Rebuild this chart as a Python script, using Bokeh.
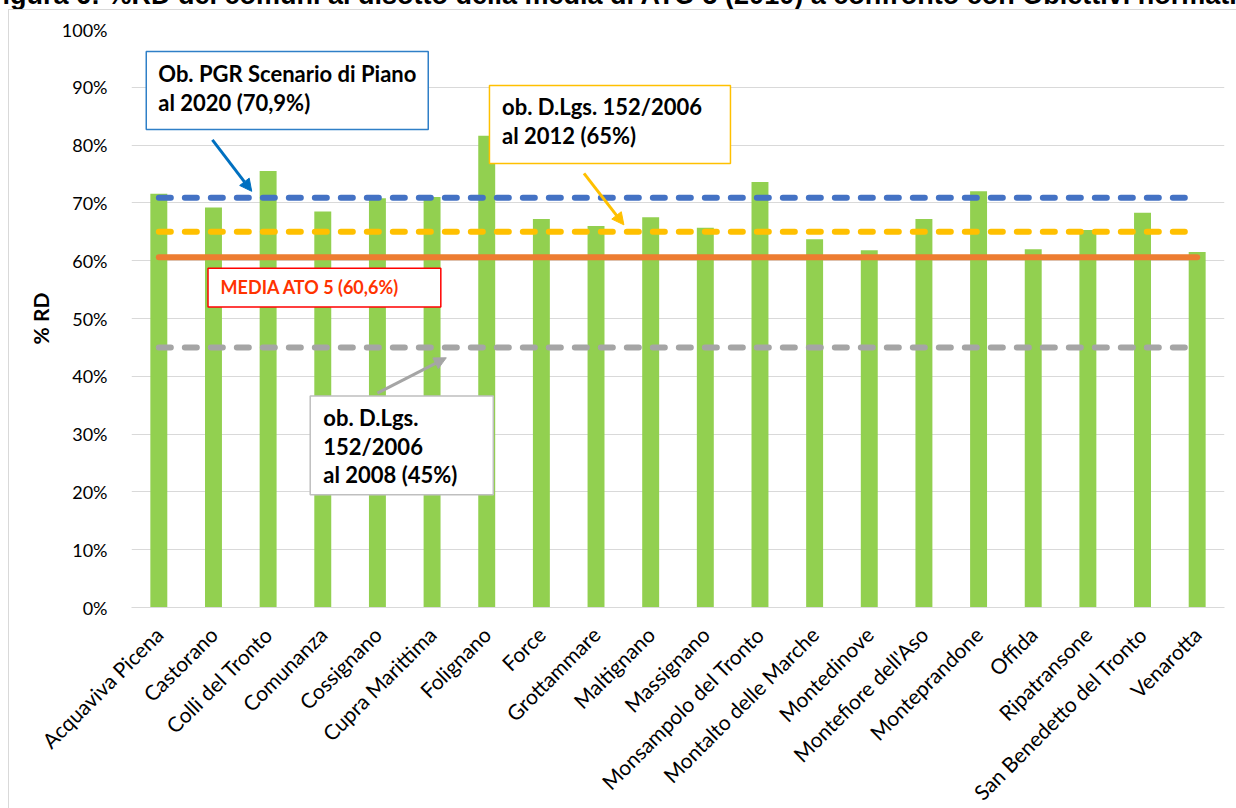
from math import pi

from bokeh.embed import file_html
from bokeh.resources import INLINE
from bokeh.layouts import column
from bokeh.plotting import figure
from bokeh.models import (Range1d, FixedTicker, PrintfTickFormatter, Label, Arrow,
                          NormalHead, Div)

# --- data -------------------------------------------------------------
comuni = [
    "Acquaviva Picena", "Castorano", "Colli del Tronto", "Comunanza", "Cossignano",
    "Cupra Marittima", "Folignano", "Force", "Grottammare", "Maltignano",
    "Massignano", "Monsampolo del Tronto", "Montalto delle Marche", "Montedinove",
    "Montefiore dell'Aso", "Monteprandone", "Offida", "Ripatransone",
    "San Benedetto del Tronto", "Venarotta",
]
rd_percent = [71.6, 69.2, 75.5, 68.5, 70.8, 71.0, 81.6, 67.2, 66.0, 67.5,
              65.7, 73.6, 63.7, 61.8, 67.2, 72.0, 62.0, 65.3, 68.3, 61.5]

ob_pgr_2020 = 70.9
ob_dlgs_2012 = 65.0
media_ato5 = 60.6
ob_dlgs_2008 = 45.0

y_ticks = list(range(0, 101, 10))

TITLE = ("Figura 6: %RD dei comuni al disotto della media di ATO 5 (2010) "
         "a confronto con Obiettivi normativi")

# --- heading strip above the chart --------------------------------------
head = Div(
    text=('<div style="position:absolute; left:-14px; top:-18px; white-space:nowrap; '
          "font-family:'Liberation Sans'; font-weight:bold; font-size:27px; "
          f'line-height:27px; color:#000000;">{TITLE}</div>'),
    width=1236, height=9, margin=0,
    styles={"overflow": "hidden", "position": "relative"},
)

# --- figure -----------------------------------------------------------
n = len(comuni)
xs = [i + 0.5 for i in range(n)]

p = figure(width=1228, height=806, output_backend="svg", toolbar_location=None,
           x_range=Range1d(0, n), y_range=Range1d(0, 100),
           min_border_left=122, min_border_right=13, min_border_top=19,
           min_border_bottom=208)
p.margin = (0, 0, 0, 8)
p.styles = {"border-left": "1px solid #D9D9D9", "border-top": "1px solid #D9D9D9"}
p.outline_line_color = None
p.background_fill_color = "white"
p.border_fill_color = "white"

TICK_FONT = "Lato"
BOX_FONT = "Lato"

# y axis
p.yaxis.ticker = FixedTicker(ticks=y_ticks)
p.yaxis.formatter = PrintfTickFormatter(format="%d%%")
p.yaxis.axis_line_color = None
p.yaxis.major_tick_line_color = None
p.yaxis.minor_tick_line_color = None
p.yaxis.major_label_standoff = 18
p.yaxis.major_label_text_font = TICK_FONT
p.yaxis.major_label_text_font_size = "18px"
p.yaxis.major_label_text_color = "#000000"
p.yaxis.axis_label = "% RD"
p.yaxis.axis_label_text_font = BOX_FONT
p.yaxis.axis_label_text_font_style = "bold"
p.yaxis.axis_label_text_font_size = "21px"
p.yaxis.axis_label_text_color = "#000000"
p.yaxis.axis_label_standoff = 6

# x axis
p.xaxis.ticker = FixedTicker(ticks=xs)
p.xaxis.major_label_overrides = {x: c for x, c in zip(xs, comuni)}
p.xaxis.major_label_orientation = pi / 4
p.xaxis.axis_line_color = "#D9D9D9"
p.xaxis.major_tick_line_color = None
p.xaxis.minor_tick_line_color = None
p.xaxis.major_label_standoff = 17
p.xaxis.major_label_text_font = TICK_FONT
p.xaxis.major_label_text_font_size = "21px"
p.xaxis.major_label_text_color = "#000000"

p.xgrid.grid_line_color = None
p.ygrid.ticker = FixedTicker(ticks=y_ticks)
p.ygrid.grid_line_color = "#D9D9D9"
p.ygrid.grid_line_width = 1

# bars
p.vbar(x=xs, top=rd_percent, width=0.31, fill_color="#92D050", line_color=None)

# reference lines across all comuni
x_span = [xs[0], xs[-1]]
p.line(x_span, [ob_pgr_2020] * 2, line_color="#4472C4", line_width=6,
       line_dash="12 14", line_cap="round")
p.line(x_span, [ob_dlgs_2012] * 2, line_color="#FFC000", line_width=6,
       line_dash="12 14", line_cap="round")
p.line(x_span, [media_ato5] * 2, line_color="#ED7D31", line_width=6,
       line_cap="round")
p.line(x_span, [ob_dlgs_2008] * 2, line_color="#A5A5A5", line_width=6,
       line_dash="12 14", line_cap="round")

# callout boxes: (left, right, bottom, top, border colour)
callouts = [
    (0.27, 5.43, 82.7, 96.2, "#2F7FC7"),
    (6.55, 10.96, 76.8, 90.3, "#FFC000"),
    (1.40, 5.66, 52.0, 58.7, "#FF0000"),
    (3.27, 6.62, 19.5, 36.6, "#BFBFBF"),
]
for l, r, b, t, c in callouts:
    p.quad(left=[l], right=[r], bottom=[b], top=[t], fill_color="white",
           line_color=c, line_width=1.5)

# callout texts: (x, y, text, colour, size)
callout_texts = [
    (0.49, 92.4, "Ob. PGR Scenario di Piano", "#000000", "22px"),
    (0.49, 87.4, "al 2020 (70,9%)", "#000000", "22px"),
    (6.78, 86.7, "ob. D.Lgs. 152/2006", "#000000", "22px"),
    (6.78, 81.6, "al 2012 (65%)", "#000000", "22px"),
    (1.63, 55.4, "MEDIA ATO 5 (60,6%)", "#FF3300", "18px"),
    (3.51, 32.8, "ob. D.Lgs.", "#000000", "22px"),
    (3.51, 27.8, "152/2006", "#000000", "22px"),
    (3.51, 23.0, "al 2008 (45%)", "#000000", "22px"),
]
for x, y, txt, c, size in callout_texts:
    p.add_layout(Label(x=x, y=y, text=txt, text_font=BOX_FONT, text_font_style="bold",
                       text_font_size=size, text_color=c, text_baseline="middle",
                       text_align="left"))

# pointer arrows: (x0, y0, x1, y1, colour)
pointers = [
    (1.48, 80.9, 2.20, 72.0, "#0070C0"),
    (8.28, 75.1, 9.01, 66.2, "#FFC000"),
    (4.50, 37.1, 5.76, 43.2, "#A5A5A5"),
]
for x0, y0, x1, y1, c in pointers:
    p.add_layout(Arrow(x_start=x0, y_start=y0, x_end=x1, y_end=y1,
                       line_color=c, line_width=3,
                       end=NormalHead(size=12, fill_color=c, line_color=c)))

layout = column(head, p, spacing=0)
open("out.html", "w").write(file_html(layout, INLINE))
